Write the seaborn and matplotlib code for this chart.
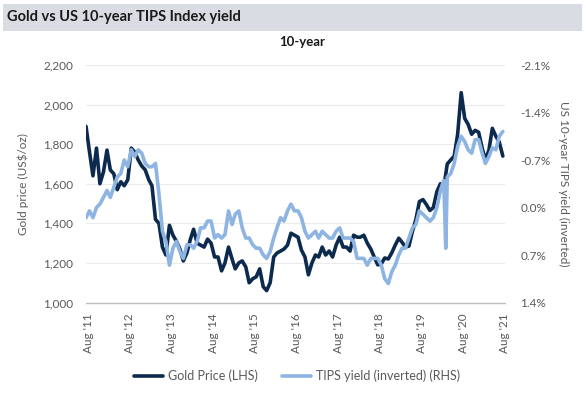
import matplotlib
matplotlib.use("Agg")
import matplotlib.pyplot as plt
import matplotlib.ticker as mticker
from matplotlib.patches import Rectangle
import seaborn as sns
import pandas as pd

# ---------------- data (monthly) ----------------
start_month = "2011-08-01"
gold_price = [
    1890, 1760, 1640, 1780, 1600,                                      # 2011 Aug-Dec
    1660, 1770, 1670, 1650, 1570, 1610, 1590, 1620, 1780, 1760, 1720, 1690,  # 2012
    1670, 1620, 1590, 1420, 1400, 1280, 1240, 1390, 1340, 1310, 1270, 1210,  # 2013
    1250, 1320, 1370, 1300, 1290, 1280, 1320, 1300, 1230, 1230, 1160, 1200,  # 2014
    1280, 1220, 1170, 1200, 1210, 1180, 1100, 1120, 1130, 1170, 1080, 1060,  # 2015
    1100, 1230, 1250, 1260, 1270, 1290, 1350, 1340, 1330, 1265, 1230, 1140,  # 2016
    1200, 1240, 1230, 1280, 1240, 1260, 1230, 1290, 1330, 1280, 1280, 1260,  # 2017
    1340, 1330, 1330, 1340, 1300, 1270, 1230, 1190, 1195, 1225, 1220, 1250,  # 2018
    1290, 1325, 1305, 1280, 1285, 1360, 1420, 1510, 1520, 1495, 1465, 1480,  # 2019
    1560, 1600, 1580, 1700, 1720, 1740, 1850, 2060, 1930, 1900, 1850, 1870,  # 2020
    1860, 1780, 1720, 1770, 1880, 1840, 1810, 1740,                    # 2021 Jan-Aug
]
tips_yield = [
    0.15, 0.05, 0.15, 0.00, -0.05,
    -0.15, -0.25, -0.15, -0.30, -0.45, -0.50, -0.70, -0.60, -0.85, -0.75, -0.85, -0.80,
    -0.65, -0.60, -0.60, -0.65, -0.20, 0.35, 0.50, 0.85, 0.60, 0.50, 0.65, 0.75,
    0.55, 0.55, 0.60, 0.50, 0.30, 0.30, 0.20, 0.20, 0.45, 0.40, 0.45, 0.40,
    0.05, 0.25, 0.10, 0.05, 0.30, 0.45, 0.45, 0.55, 0.60, 0.60, 0.70, 0.75,
    0.65, 0.45, 0.30, 0.15, 0.20, 0.05, -0.05, 0.05, 0.05, 0.15, 0.35, 0.45,
    0.40, 0.35, 0.45, 0.35, 0.40, 0.45, 0.45, 0.35, 0.30, 0.45, 0.45, 0.45,
    0.50, 0.75, 0.75, 0.75, 0.85, 0.75, 0.75, 0.75, 0.85, 1.05, 1.12, 0.95,
    0.85, 0.70, 0.60, 0.60, 0.45, 0.30, 0.25, 0.05, 0.10, 0.15, 0.20, 0.15,
    0.00, -0.25, -0.40, -0.45, -0.50, -0.65, -0.90, -1.05, -0.97, -0.85, -0.80, -1.00,
    -1.00, -0.80, -0.65, -0.75, -0.88, -0.85, -1.05, -1.12,
]
tips_spike_dates = ["2020-03-19"]
tips_spike_values = [0.60]

gold_left_ticks = [1000, 1200, 1400, 1600, 1800, 2000, 2200]
tips_right_ticks = [-2.1, -1.4, -0.7, 0.0, 0.7, 1.4]
x_tick_years = list(range(2011, 2022))

title_text = "Gold vs US 10-year TIPS Index yield"
subtitle_text = "10-year"
left_label = "Gold price (US$/oz)"
right_label = "US 10-year TIPS yield (inverted)"
gold_name = "Gold Price (LHS)"
tips_name = "TIPS yield (inverted) (RHS)"

# ---------------- frames ----------------
dates = pd.date_range(start_month, periods=len(gold_price), freq="MS")
gold_df = pd.DataFrame({"date": dates, "value": gold_price})
tips_df = pd.DataFrame({"date": dates, "value": tips_yield})
spike_df = pd.DataFrame({"date": pd.to_datetime(tips_spike_dates), "value": tips_spike_values})
tips_df = pd.concat([tips_df, spike_df]).sort_values("date").reset_index(drop=True)

# ---------------- style ----------------
sns.set_style("white")
plt.rcParams["font.family"] = ["Lato", "DejaVu Sans"]
text_gray = "#595959"
dark = "#0C2A4D"
light = "#8DB4E2"

fig = plt.figure(figsize=(5.86, 3.94), dpi=100)
W, H = 586, 394

def fx(px):
    return px / W

def fy(py):
    return 1 - py / H

# title banner
fig.patches.append(Rectangle((fx(3), fy(31)), fx(579), 27 / H, transform=fig.transFigure,
                             facecolor="#D9DDE3", edgecolor="none", zorder=0))
fig.text(fx(7), fy(17.5), title_text, fontsize=10.5, fontweight="bold", color="#1a1a1a",
         ha="left", va="center")
fig.text(fx(302), fy(42.5), subtitle_text, fontsize=9.5, fontweight="bold", color="#1a1a1a",
         ha="center", va="center")

ax = fig.add_axes([fx(86), fy(302.5), fx(505 - 86), 237.5 / H])
sns.lineplot(data=gold_df, x="date", y="value", ax=ax, color=dark, linewidth=2.6,
             label=gold_name, legend=False)
ax2 = ax.twinx()
sns.lineplot(data=tips_df, x="date", y="value", ax=ax2, color=light, linewidth=2.6,
             label=tips_name, legend=False)

ax.set_ylim(1000, 2200)
ax.set_yticks(gold_left_ticks)
ax.yaxis.set_major_formatter(mticker.FuncFormatter(lambda v, p: f"{v:,.0f}"))
ax2.set_ylim(1.4, -2.1)
ax2.set_yticks(tips_right_ticks)
ax2.yaxis.set_major_formatter(
    mticker.FuncFormatter(lambda v, p: ("-" if v < -1e-9 else "") + f"{abs(v):.1f}%"))

x0 = pd.Timestamp("2011-08-01")
x1 = pd.Timestamp("2021-08-01")
ax.set_xlim(x0, x1)
tick_dates = [pd.Timestamp(f"{y}-08-20") for y in x_tick_years]
ax.set_xticks(tick_dates)
ax.set_xticklabels([f"Aug '{str(y)[2:]}" for y in x_tick_years], rotation=90, fontsize=8.5,
                   color=text_gray)

ax.grid(axis="y", color="#EBEBEB", linewidth=0.8)
ax.set_axisbelow(True)
for a in (ax, ax2):
    for s in ("top", "right", "left", "bottom"):
        a.spines[s].set_visible(False)
    a.tick_params(length=0)
ax.spines["bottom"].set_visible(True)
ax.spines["bottom"].set_color("#BFBFBF")
ax.spines["bottom"].set_linewidth(1.0)

ax.tick_params(axis="y", labelsize=8.5, labelcolor=text_gray, pad=9)
ax.tick_params(axis="x", pad=8)
ax2.tick_params(axis="y", labelsize=8.5, labelcolor=text_gray, pad=11)

ax.set_xlabel("")
ax.set_ylabel(left_label, fontsize=8.5, color=text_gray)
ax.yaxis.set_label_coords((29 - 86) / 419, 0.5)
ax2.set_ylabel(right_label, fontsize=8.5, color=text_gray, rotation=270, va="center")
ax2.yaxis.set_label_coords((564 - 86) / 419, 0.5)

handles = [ax.get_lines()[0], ax2.get_lines()[0]]
fig.legend(handles, [gold_name, tips_name], loc="center", bbox_to_anchor=(fx(297), fy(376)),
           ncol=2, frameon=False, fontsize=9, labelcolor=text_gray, handlelength=2.3,
           handletextpad=0.35, columnspacing=2.0)

fig.savefig("out.png", dpi=100)
